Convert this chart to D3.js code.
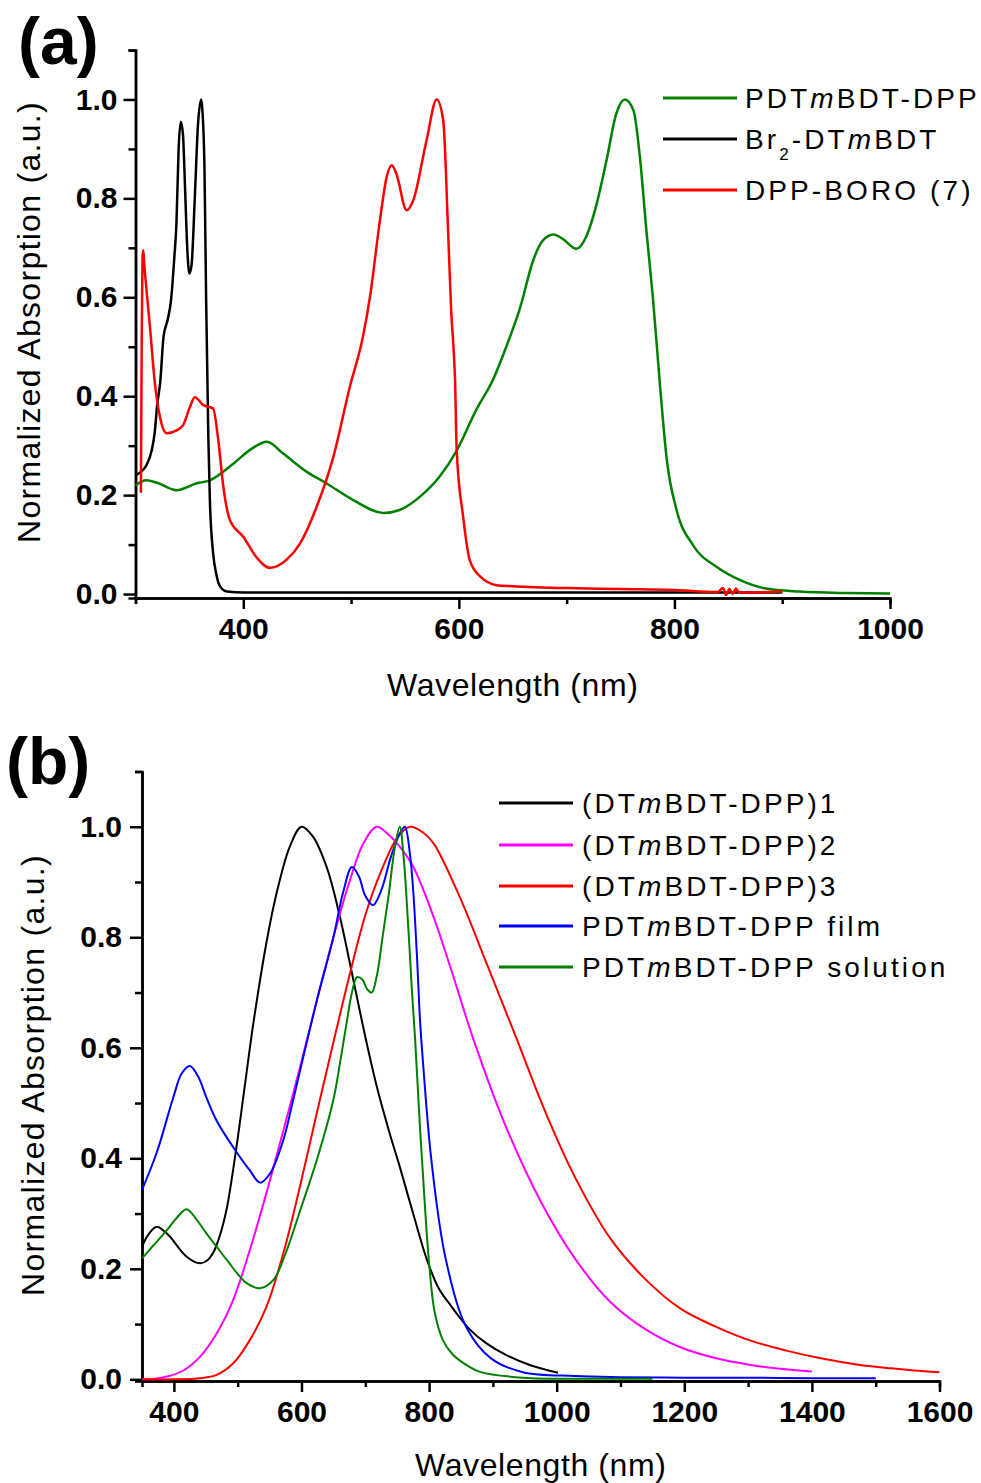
<!DOCTYPE html>
<html>
<head>
<meta charset="utf-8">
<script src="https://cdn.jsdelivr.net/npm/d3@7"></script>
<style>
  body { margin: 0; background: #fff; }
  text { font-family: "Liberation Sans", Arial, sans-serif; fill: #000; }
</style>
</head>
<body>
<div id="chart"></div>
<script>
"use strict";

// ---- panel (a): normalized absorption, [wavelength nm, value] ----
const a_pdtmbdt_dpp = [
  [300, 0.22], [310, 0.23], [320, 0.225], [338, 0.21], [357, 0.224], [369, 0.23],
  [391, 0.264], [406, 0.291], [422, 0.308], [437, 0.284], [459, 0.247], [477, 0.224],
  [502, 0.19], [530, 0.164], [545, 0.17], [564, 0.197], [582, 0.237], [598, 0.29],
  [616, 0.372], [632, 0.435], [644, 0.5], [657, 0.58], [669, 0.675], [678, 0.715],
  [688, 0.727], [697, 0.717], [709, 0.698], [718, 0.722], [728, 0.79], [737, 0.877],
  [746, 0.971], [754, 1.0], [762, 0.978], [768, 0.883], [774, 0.735], [780, 0.6],
  [786.5, 0.425], [793, 0.27], [802, 0.17], [817.5, 0.098], [839, 0.055], [861, 0.028],
  [885, 0.011], [916, 0.005], [960, 0.002], [1000, 0.001]
];
const a_br2_dtmbdt = [
  [300, 0.24], [305, 0.247], [310, 0.26], [315, 0.29], [318, 0.33], [320, 0.38],
  [323, 0.43], [326, 0.52], [330, 0.556], [333, 0.595], [336, 0.68], [338, 0.75],
  [340, 0.9], [342, 0.955], [344, 0.93], [346, 0.82], [348, 0.7], [350, 0.648],
  [352, 0.665], [355, 0.8], [358, 0.95], [361, 1.0], [362, 0.98], [364, 0.86],
  [365.5, 0.6], [367.5, 0.325], [369, 0.19], [372, 0.083], [375, 0.04], [377, 0.022],
  [381, 0.009], [385, 0.005], [400, 0.003], [600, 0.003], [900, 0.003]
];
const a_dpp_boro = [
  [305, 0.205], [305.8, 0.52], [306.5, 0.68], [307.2, 0.695], [308, 0.67], [310, 0.62],
  [313.4, 0.54], [318, 0.426], [322.7, 0.358], [329, 0.325], [338, 0.331], [344, 0.341],
  [350.5, 0.378], [355, 0.398], [363, 0.382], [372, 0.375], [376.8, 0.311], [381.5, 0.217],
  [387.7, 0.149], [400, 0.116], [412, 0.075], [424.8, 0.053], [440, 0.069], [452.6, 0.102],
  [468, 0.176], [483.5, 0.277], [499, 0.42], [511, 0.52], [517.5, 0.6], [526.8, 0.756],
  [533, 0.843], [537.7, 0.867], [542, 0.85], [551.6, 0.776], [557.7, 0.796], [570, 0.917],
  [579.4, 1.0], [585.5, 0.958], [590, 0.735], [593, 0.567], [595, 0.5], [596.5, 0.43],
  [598, 0.29], [604, 0.156], [610, 0.069], [620, 0.035], [635, 0.018], [650, 0.016],
  [700, 0.012], [750, 0.01], [800, 0.008], [840, 0.004], [845, 0.012], [848, -0.002],
  [851, 0.01], [854, 0.0], [857, 0.011], [860, 0.003], [900, 0.005]
];

// ---- panel (b) ----
const b_dtmbdt_dpp1 = [
  [350, 0.24], [360, 0.262], [373, 0.276], [385, 0.268], [394, 0.258], [420, 0.222],
  [441, 0.21], [452, 0.215], [462, 0.23], [472, 0.26], [483, 0.31], [498, 0.42],
  [511, 0.53], [524, 0.64], [545, 0.79], [561, 0.88], [582, 0.965], [600, 1.0],
  [618, 0.982], [640, 0.925], [660, 0.838], [680, 0.73], [700, 0.62], [718, 0.53],
  [737, 0.45], [754, 0.385], [775, 0.3], [797, 0.215], [815, 0.165], [833, 0.135],
  [864, 0.09], [890, 0.065], [919, 0.045], [960, 0.025], [1002, 0.012]
];
const b_dtmbdt_dpp2 = [
  [350, 0.0], [370, 0.001], [389, 0.005], [415, 0.016], [441, 0.041], [467, 0.083],
  [493, 0.144], [519, 0.234], [545, 0.337], [571.5, 0.45], [600, 0.575], [625, 0.69],
  [650, 0.8], [675, 0.9], [697, 0.97], [718, 1.0], [737, 0.985], [754, 0.964],
  [775, 0.928], [807, 0.837], [838, 0.729], [869, 0.617], [919, 0.461], [975, 0.322],
  [1029, 0.218], [1084, 0.14], [1140, 0.09], [1194, 0.058], [1250, 0.038], [1304, 0.026],
  [1350, 0.019], [1400, 0.014]
];
const b_dtmbdt_dpp3 = [
  [350, 0.0], [400, 0.0], [441, 0.002], [467, 0.008], [493, 0.029], [519, 0.071],
  [545, 0.131], [571.5, 0.228], [597.6, 0.349], [623.8, 0.481], [650, 0.61], [675, 0.73],
  [700, 0.84], [725, 0.92], [750, 0.98], [770, 1.0], [790, 0.99], [807, 0.97],
  [848, 0.873], [890, 0.753], [919, 0.669], [937, 0.617], [980, 0.49], [1029, 0.365],
  [1084, 0.255], [1140, 0.18], [1194, 0.128], [1250, 0.095], [1304, 0.07], [1360, 0.052],
  [1414, 0.038], [1470, 0.027], [1524, 0.02], [1560, 0.016], [1600, 0.013]
];
const b_film = [
  [350, 0.343], [373, 0.41], [399, 0.51], [412, 0.553], [425, 0.567], [438, 0.548],
  [451, 0.51], [467, 0.468], [493, 0.42], [519, 0.378], [535, 0.356], [551, 0.373],
  [571.5, 0.433], [587, 0.506], [600, 0.57], [625, 0.69], [650, 0.8], [665, 0.88],
  [679, 0.927], [690, 0.91], [700, 0.875], [712, 0.858], [725, 0.885], [740, 0.945],
  [755, 0.99], [762, 1.0], [770, 0.95], [775, 0.886], [781, 0.765], [786, 0.645],
  [790, 0.58], [804, 0.392], [826, 0.218], [859, 0.093], [897, 0.038], [947, 0.013],
  [1029, 0.006], [1100, 0.004], [1200, 0.003], [1300, 0.003], [1400, 0.002], [1500, 0.002]
];
const b_solution = [
  [350, 0.219], [370, 0.245], [389, 0.27], [405, 0.293], [420, 0.308], [435, 0.29],
  [451, 0.264], [467, 0.24], [483, 0.216], [514, 0.174], [535, 0.165], [556, 0.18],
  [577, 0.234], [598, 0.306], [624, 0.397], [650, 0.506], [660, 0.57], [670, 0.64],
  [680, 0.705], [687, 0.728], [695, 0.724], [703, 0.706], [710, 0.7], [718, 0.73],
  [727, 0.8], [737, 0.88], [746, 0.96], [754, 1.0], [760, 0.946], [767, 0.825],
  [773, 0.705], [778, 0.617], [786, 0.45], [793, 0.322], [800, 0.21], [809, 0.12],
  [822, 0.07], [837, 0.045], [860, 0.025], [881, 0.013], [947, 0.003], [1050, 0.001],
  [1150, 0.001]
];

// ticks
const a_xMajor = [400, 600, 800, 1000];
const a_xMinor = [300, 500, 700, 900];
const b_xMajor = [400, 600, 800, 1000, 1200, 1400, 1600];
const b_xMinor = [500, 700, 900, 1100, 1300, 1500];
const yMajor = [0.0, 0.2, 0.4, 0.6, 0.8, 1.0];
const yMinor = [0.1, 0.3, 0.5, 0.7, 0.9, 1.1];

// legend labels: *x* = italic, _x = subscript
const a_labels = ["PDT*m*BDT-DPP", "Br_2-DT*m*BDT", "DPP-BORO (7)"];
const b_labels = ["(DT*m*BDT-DPP)1", "(DT*m*BDT-DPP)2", "(DT*m*BDT-DPP)3",
  "PDT*m*BDT-DPP film", "PDT*m*BDT-DPP solution"];

const svg = d3.select("#chart").append("svg")
  .attr("width", 981)
  .attr("height", 1483);

function styleAxis(g) {
  g.attr("font-family", null).attr("font-size", null);
  g.selectAll(".domain").attr("stroke", "#000").attr("stroke-width", 2.5);
  g.selectAll(".tick line").attr("stroke", "#000").attr("stroke-width", 2.5);
  g.selectAll(".tick text")
    .style("font-size", "30px")
    .style("font-weight", "bold");
}

function addLabel(sel, label) {
  // split into plain / italic / subscript parts
  let parts = label.split(/(\*[^*]+\*|_\d)/).filter(s => s.length);
  let shift = 0;
  parts.forEach(p => {
    let ts;
    if (p[0] == "*") {
      ts = sel.append("tspan").style("font-style", "italic").text(p.slice(1, -1));
    } else if (p[0] == "_") {
      ts = sel.append("tspan").style("font-size", "17px").text(p.slice(1));
    } else {
      ts = sel.append("tspan").text(p);
    }
    let want = p[0] == "_" ? 11 : 0;
    if (want != shift) {
      ts.attr("dy", want - shift);
      shift = want;
    }
  });
}

function drawPanel(cfg) {
  let x = d3.scaleLinear().domain(cfg.xDomain).range(cfg.xRange);
  let y = d3.scaleLinear().domain(cfg.yDomain).range(cfg.yRange);
  let g = svg.append("g");
  let bottom = cfg.yRange[0];
  let left = cfg.xRange[0];

  // minor ticks
  g.append("g")
    .attr("transform", "translate(0," + bottom + ")")
    .call(d3.axisBottom(x).tickValues(cfg.xMinor).tickSize(6).tickFormat(""))
    .call(styleAxis);
  g.append("g")
    .attr("transform", "translate(" + left + ",0)")
    .call(d3.axisLeft(y).tickValues(yMinor).tickSize(7).tickFormat(""))
    .call(styleAxis);

  // major ticks + labels
  g.append("g")
    .attr("transform", "translate(0," + bottom + ")")
    .call(d3.axisBottom(x).tickValues(cfg.xMajor).tickSize(11).tickSizeOuter(0)
      .tickPadding(cfg.xPad).tickFormat(d3.format("d")))
    .call(styleAxis);
  g.append("g")
    .attr("transform", "translate(" + left + ",0)")
    .call(d3.axisLeft(y).tickValues(yMajor).tickSize(12).tickSizeOuter(0)
      .tickPadding(cfg.yPad).tickFormat(d3.format(".1f")))
    .call(styleAxis);

  // curves
  let line = d3.line()
    .x(d => x(d[0]))
    .y(d => y(d[1]))
    .curve(cfg.curve);

  cfg.series.forEach(s => {
    g.append("path")
      .attr("d", line(s.data))
      .attr("fill", "none")
      .attr("stroke", s.color)
      .attr("stroke-width", cfg.lineWidth)
      .attr("stroke-linejoin", "round");
  });

  // legend
  cfg.series.forEach((s, i) => {
    let ly = cfg.legendRows[i];
    g.append("line")
      .attr("x1", cfg.legendX[0]).attr("x2", cfg.legendX[1])
      .attr("y1", ly).attr("y2", ly)
      .attr("stroke", s.color).attr("stroke-width", 3);
    let t = g.append("text")
      .attr("x", cfg.legendX[2]).attr("y", ly + 10)
      .style("font-size", "28px")
      .style("letter-spacing", "3.1px");
    addLabel(t, s.label);
  });

  // titles
  g.append("text")
    .attr("x", (cfg.xRange[0] + cfg.xRange[1]) / 2)
    .attr("y", cfg.xTitleY)
    .attr("text-anchor", "middle")
    .style("font-size", "32px")
    .style("letter-spacing", "0.6px")
    .text("Wavelength (nm)");

  g.append("text")
    .attr("transform", `translate(${cfg.yTitleX},${cfg.yTitleMid}) rotate(-90)`)
    .attr("text-anchor", "middle")
    .style("font-size", "32px")
    .style("letter-spacing", "1.3px")
    .text("Normalized Absorption (a.u.)");

  g.append("text")
    .attr("x", cfg.tag[0]).attr("y", cfg.tag[1])
    .style("font-size", "66px")
    .style("font-weight", "bold")
    .text(cfg.tagText);
}

drawPanel({
  xDomain: [300, 1000], xRange: [135.5, 890],
  yDomain: [-0.008, 1.1], yRange: [598, 50],
  xMajor: a_xMajor, xMinor: a_xMinor, xPad: 9, yPad: 6,
  lineWidth: 2.5, curve: d3.curveMonotoneX,
  series: [
    { data: a_pdtmbdt_dpp, color: "#008000", label: a_labels[0] },
    { data: a_br2_dtmbdt, color: "#000000", label: a_labels[1] },
    { data: a_dpp_boro, color: "#ff0000", label: a_labels[2] }
  ],
  legendRows: [98, 139, 190], legendX: [663, 737, 745],
  xTitleY: 696, yTitleX: 40, yTitleMid: 322,
  tag: [18, 64], tagText: "(a)"
});

drawPanel({
  xDomain: [350, 1600], xRange: [142, 939.5],
  yDomain: [-0.003, 1.1], yRange: [1381, 771.5],
  xMajor: b_xMajor, xMinor: b_xMinor, xPad: 9, yPad: 8,
  lineWidth: 2, curve: d3.curveCatmullRom.alpha(0.5),
  series: [
    { data: b_dtmbdt_dpp1, color: "#000000", label: b_labels[0] },
    { data: b_dtmbdt_dpp2, color: "#ff00ff", label: b_labels[1] },
    { data: b_dtmbdt_dpp3, color: "#ff0000", label: b_labels[2] },
    { data: b_film, color: "#0000ff", label: b_labels[3] },
    { data: b_solution, color: "#008000", label: b_labels[4] }
  ],
  legendRows: [803, 845, 886, 926, 967], legendX: [499, 573, 582],
  xTitleY: 1476, yTitleX: 44, yTitleMid: 1075,
  tag: [6, 784], tagText: "(b)"
});
</script>
</body>
</html>
